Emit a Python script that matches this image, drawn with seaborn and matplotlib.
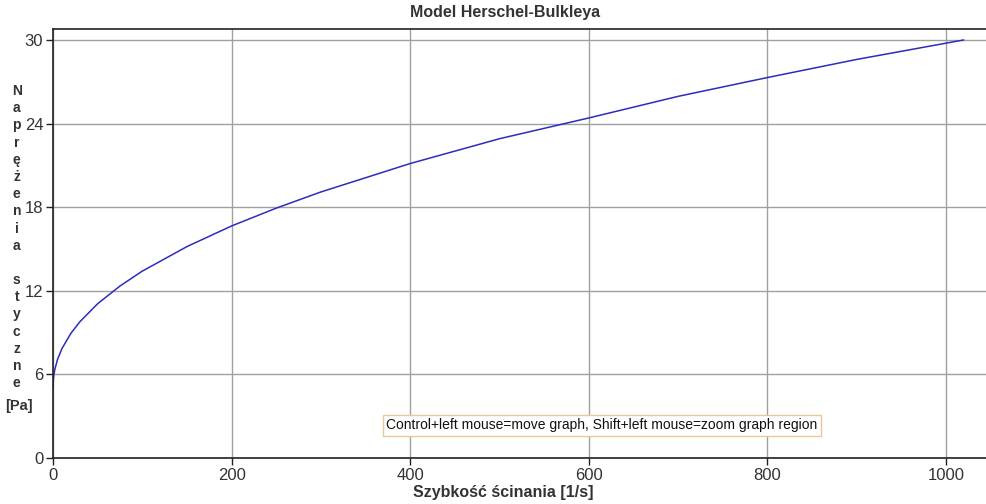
import numpy as np
import pandas as pd
import seaborn as sns
import matplotlib.pyplot as plt

# shear rate [1/s] and shear stress [Pa]
shear_rate = [0, 0.5, 1, 2, 5, 10, 20, 30, 50, 75, 100, 150, 200, 250, 300,
              400, 500, 600, 700, 800, 900, 1020]
shear_stress = [5.0, 5.70, 5.97, 6.34, 7.06, 7.85, 8.94, 9.77, 11.07, 12.34,
                13.41, 15.17, 16.65, 17.93, 19.09, 21.13, 22.91, 24.4, 25.95,
                27.3, 28.6, 30.0]
x_ticks = [0, 200, 400, 600, 800, 1000]
y_ticks = [0, 6, 12, 18, 24, 30]

df = pd.DataFrame({"rate": shear_rate, "stress": shear_stress})

sns.set_style("white")
plt.rcParams["font.family"] = ["Liberation Sans", "DejaVu Sans"]

fig = plt.figure(figsize=(9.87, 5.04), dpi=100)
ax = fig.add_axes([0.0537, 0.0913, 0.9463, 0.8502])

sns.lineplot(data=df, x="rate", y="stress", ax=ax, color="#2c2cbf", linewidth=1.1)

ax.set_xlim(0, 1046)
ax.set_ylim(0, 30.75)
ax.set_xticks(x_ticks)
ax.set_yticks(y_ticks)
ax.grid(True, color="#a0a0a0", linewidth=1)
ax.tick_params(axis="both", direction="out", length=5, width=1, color="#222222",
               labelsize=12, labelcolor="#333333", pad=2, bottom=True, left=True)
for s in ["left", "bottom", "top"]:
    ax.spines[s].set_color("#222222")
    ax.spines[s].set_linewidth(1.2)
ax.spines["right"].set_visible(False)
ax.set_xlabel("")
ax.set_ylabel("")

fig.text(505 / 987, 1 - 13 / 504, "Model Herschel-Bulkleya", ha="center", va="center",
         fontsize=11.5, fontweight="bold", color="#333333")
fig.text(503 / 987, 1 - 493 / 504, "Szybkość ścinania [1/s]", ha="center", va="center",
         fontsize=11.5, fontweight="bold", color="#333333")

letters = "Naprężenia styczne"
fig.text(0.017, 1 - 84 / 504, "\n".join(list(letters)), ha="center", va="top",
         fontsize=10, fontweight="bold", color="#333333", linespacing=1.29)
fig.text(0.019, 1 - 406 / 504, "[Pa]", ha="center", va="center",
         fontsize=10.5, fontweight="bold", color="#333333")

ax.text(0.357, 0.076, "Control+left mouse=move graph, Shift+left mouse=zoom graph region",
        transform=ax.transAxes, ha="left", va="center", fontsize=10, color="#111111",
        bbox=dict(boxstyle="square,pad=0.25", facecolor="white", edgecolor="#e8c89a",
                  linewidth=1))

fig.savefig("out.png", dpi=100)
